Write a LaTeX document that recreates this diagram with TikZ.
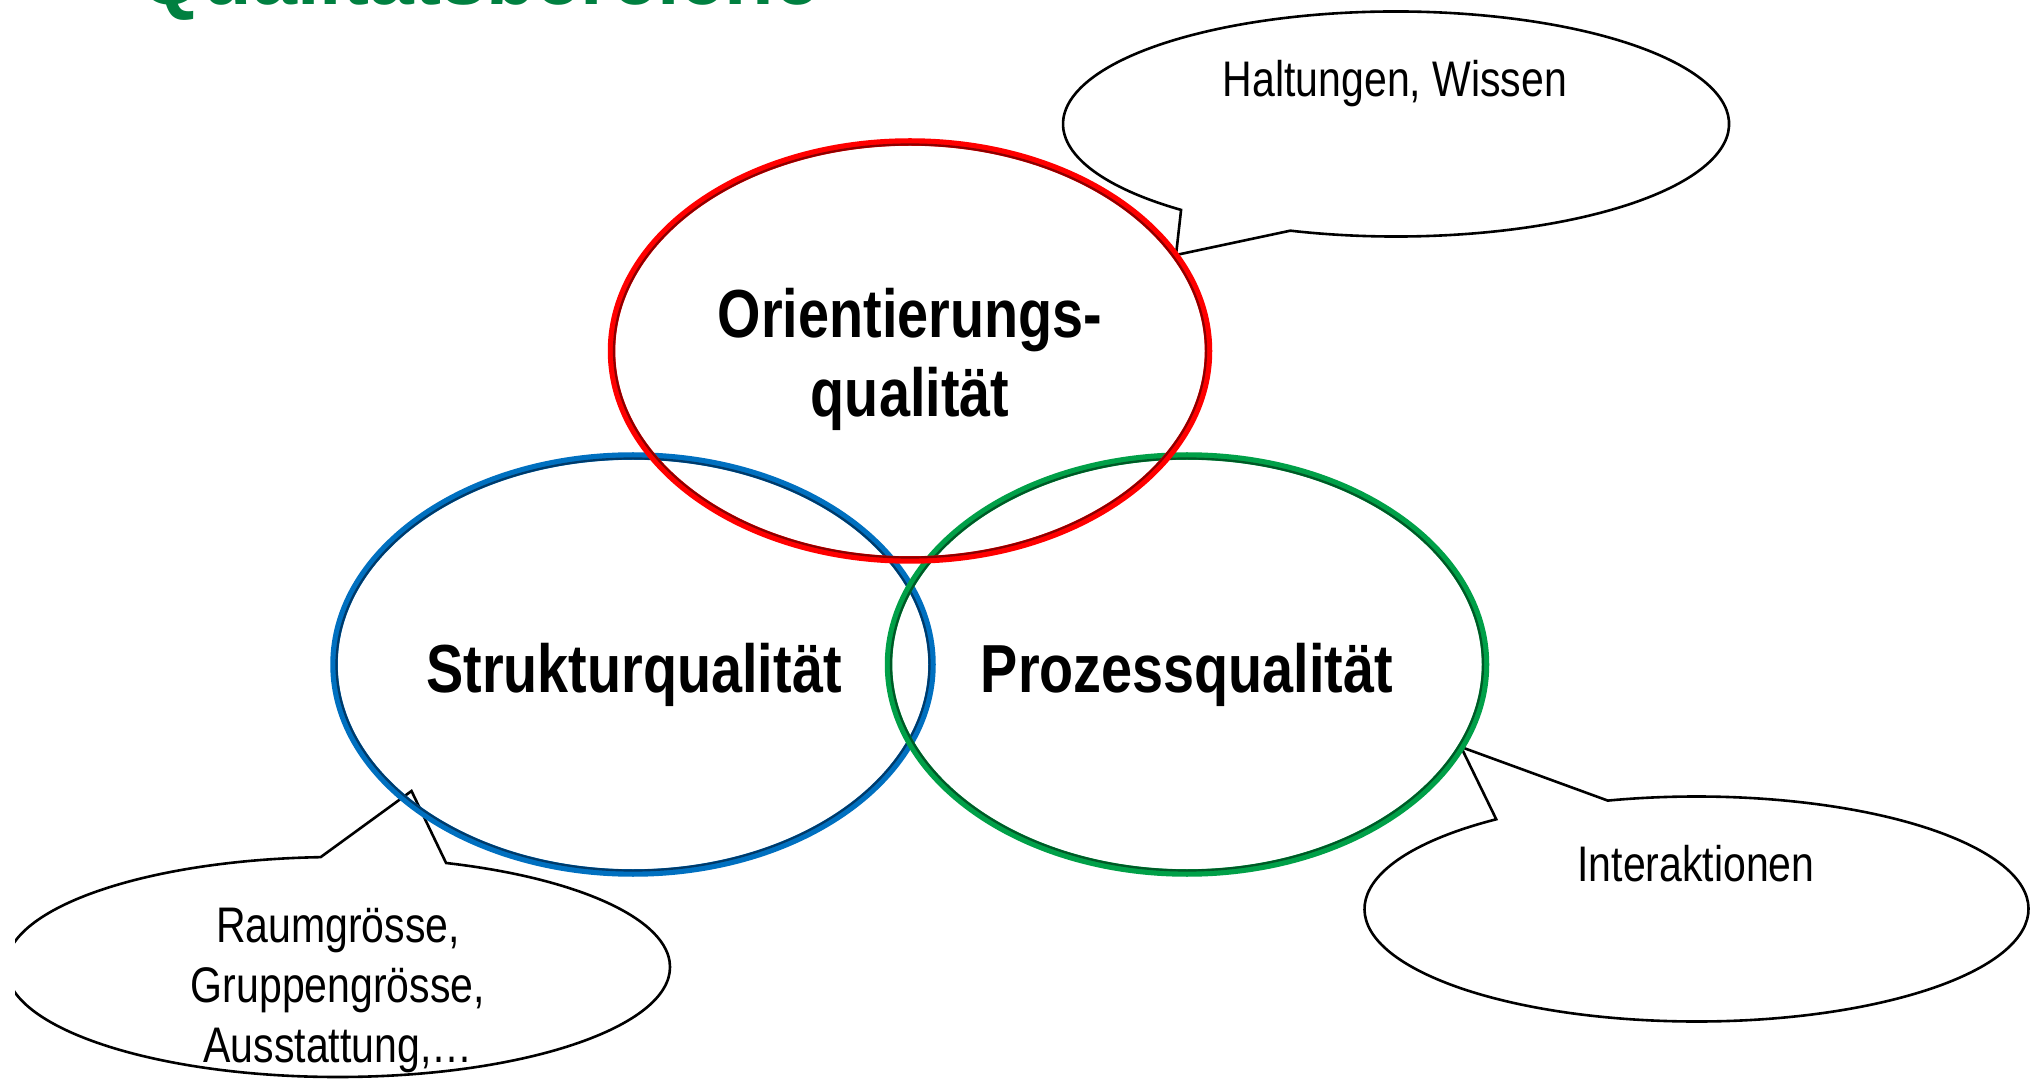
\documentclass[tikz,border=0pt]{standalone}
\usepackage{fontspec}
\setmainfont{Liberation Sans}
\newfontfamily\narrowfont[FakeStretch=0.82]{Liberation Sans}
\usetikzlibrary{calc}
\definecolor{ttlgreen}{RGB}{0,128,64}
\definecolor{ringred}{RGB}{255,0,0}
\definecolor{ringreddk}{RGB}{140,0,0}
\definecolor{ringblue}{RGB}{0,112,192}
\definecolor{ringbluedk}{RGB}{0,58,105}
\definecolor{ringgreen}{RGB}{0,160,72}
\definecolor{ringgreendk}{RGB}{0,88,38}
\begin{document}
\begin{tikzpicture}[x=1pt,y=1pt,
  bigtxt/.style={font=\narrowfont\bfseries\fontsize{68}{79}\selectfont, align=center, inner sep=0pt},
  smalltxt/.style={font=\narrowfont\fontsize{50}{60}\selectfont, align=center, inner sep=0pt},
  callout/.style={draw=black, line width=2.6pt, fill=white, line join=miter},
  ringmain/.style={line width=7.5pt},
  ringedge/.style={line width=2.2pt}]
\useasboundingbox (0,0) rectangle (2034,1080);
\fill[white] (0,0) rectangle (2034,1080);

% title (mostly cut off at the top)
\begin{scope}
  \clip (0,0) rectangle (2034,1080);
  \node[anchor=base, inner sep=0pt, text=ttlgreen, font=\bfseries\fontsize{81}{90}\selectfont] (title) at (479.5,1075) {Qualitätsbereiche};
\end{scope}

% centres
\coordinate (cO) at (910,729);
\coordinate (cS) at (633,415.5);
\coordinate (cP) at (1187,415.5);
\coordinate (c1) at (1396,956);
\coordinate (c2) at (338,113);
\coordinate (c3) at (1696.5,171);
\coordinate (t1) at (1176,825);
\coordinate (t2) at (411.5,289);
\coordinate (t3) at (1461,333);

% callouts
\draw[callout] (t1) -- ($(c1)+(251.5:333 and 112.5)$) arc[start angle=251.5, end angle=589.8, x radius=333, y radius=112.5] -- cycle;
\begin{scope}
  \clip (15,0) rectangle (2034,1080);
  \draw[callout] (t2) -- ($(c2)+(93:332 and 110)$) arc[start angle=93, end angle=431, x radius=332, y radius=110] -- cycle;
\end{scope}
\draw[callout] (t3) -- ($(c3)+(127.1:332 and 112.5)$) arc[start angle=127.1, end angle=465.5, x radius=332, y radius=112.5] -- cycle;

% rings
\draw[ringmain, ringblue] (cS) ellipse[x radius=299, y radius=208.5];
\draw[ringedge, ringbluedk] (cS) ellipse[x radius=296.5, y radius=206];
\draw[ringmain, ringgreen] (cP) ellipse[x radius=298.5, y radius=208.5];
\draw[ringedge, ringgreendk] (cP) ellipse[x radius=296, y radius=206];
\draw[ringmain, ringred] (cO) ellipse[x radius=298.5, y radius=209];
\draw[ringedge, ringreddk] (cO) ellipse[x radius=296, y radius=206.5];

% ring texts
\node[bigtxt] (orient) at (910,720.3) {Orientierungs-\\qualität};
\node[bigtxt, anchor=base] (struk) at (634,388) {Strukturqualität};
\node[bigtxt, anchor=base] (proz) at (1187,388) {Prozessqualität};

% callout texts
\node[smalltxt, anchor=base] (halt) at (1395,983.3) {Haltungen, Wissen};
\node[smalltxt] (raum) at (338,90) {Raumgrösse,\\Gruppengrösse,\\Ausstattung,…};
\node[smalltxt, anchor=base] (inter) at (1696,198.3) {Interaktionen};
\end{tikzpicture}
\end{document}
